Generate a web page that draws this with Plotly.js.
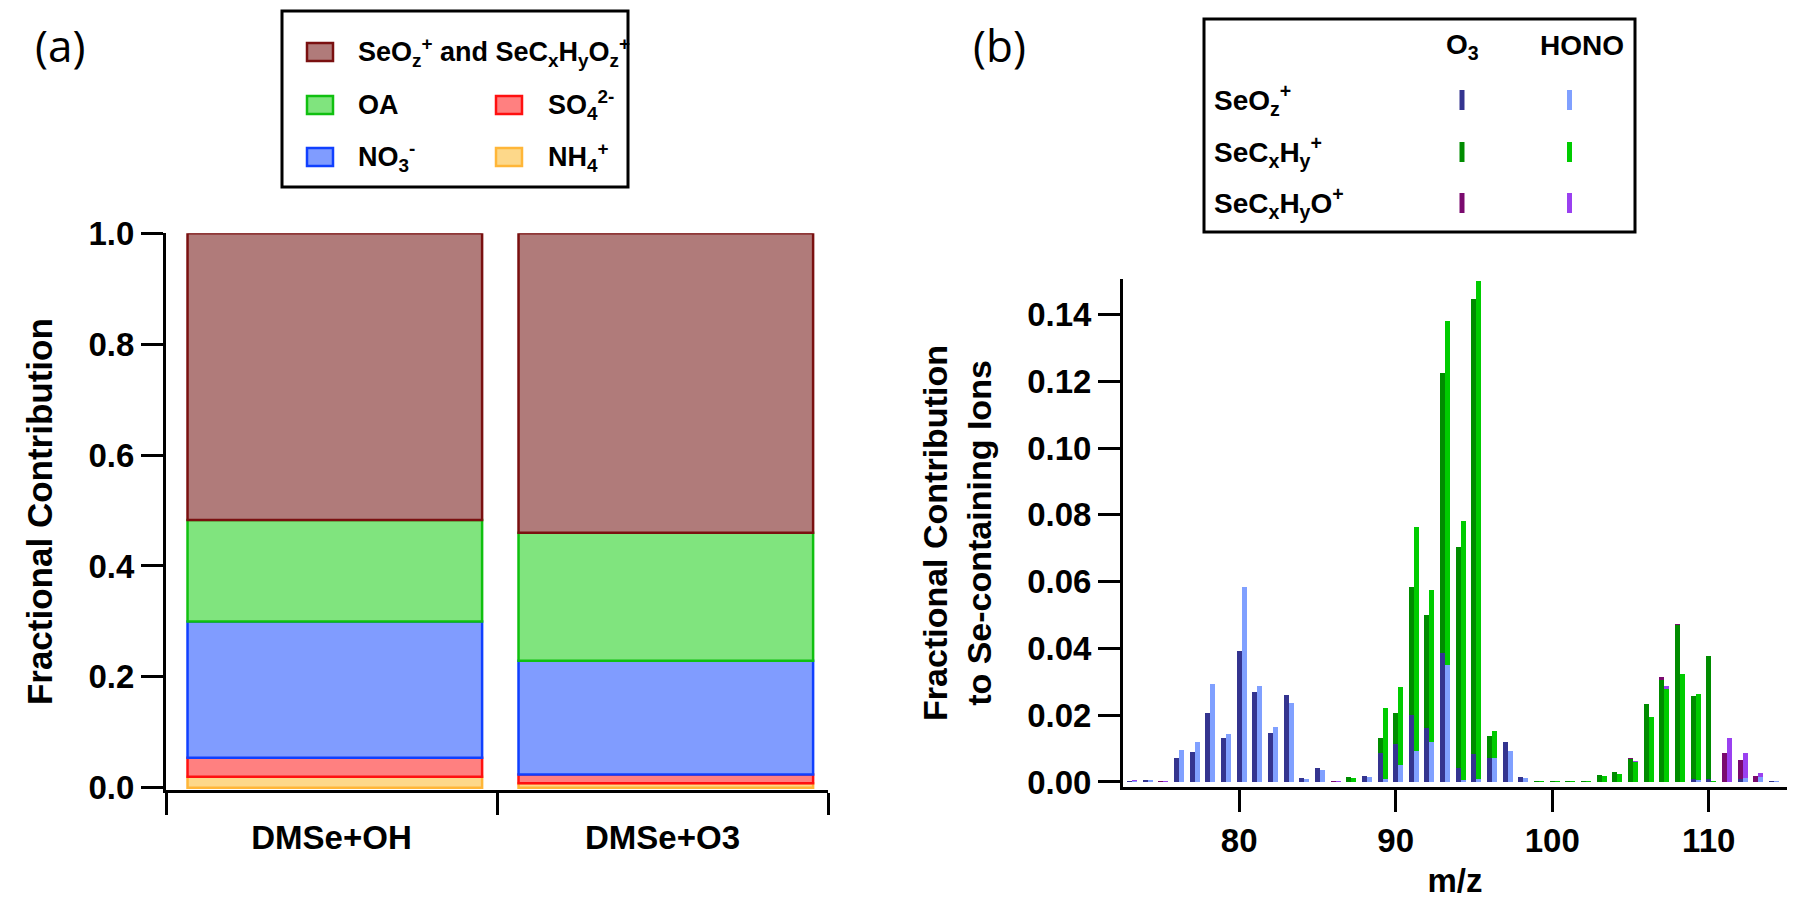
<!DOCTYPE html>
<html>
<head>
<meta charset="utf-8">
<script src="https://cdn.plot.ly/plotly-3.0.1.min.js"></script>
<style>html,body{margin:0;padding:0;background:#fff;}#chart{width:1800px;height:915px;}</style>
</head>
<body>
<div id="chart"></div>
<script>
// ---------- Panel (a): fractional contribution by experiment ----------
const samples = ['DMSe+OH', 'DMSe+O3'];
const nh4   = [0.020, 0.008];
const so4   = [0.034, 0.016];
const no3   = [0.246, 0.205];
const oa    = [0.183, 0.231];
const seOrg = [0.517, 0.540];
const compNames = ['NH<sub>4</sub><sup>+</sup>', 'SO<sub>4</sub><sup>2-</sup>', 'NO<sub>3</sub><sup>-</sup>', 'OA',
  'SeO<sub>z</sub><sup>+</sup> and SeC<sub>x</sub>H<sub>y</sub>O<sub>z</sub><sup>+</sup>'];

// ---------- Panel (b): Se-containing ion spectrum ----------
const mz = [73,74,75,76,77,78,79,80,81,82,
            83,84,85,86,87,88,89,90,91,92,
            93,94,95,96,97,98,99,100,101,102,
            103,104,105,106,107,108,109,110,111,112,
            113,114,115];
const o3SeOz = [0.0002,0.0006,0,0.0071,0.0089,0.0206,0.0133,0.0393,0.0268,0.0146,
                0.0260,0.0012,0.0043,0,0,0.0017,0.0086,0.0114,0.0200,0.0161,
                0.0385,0.0041,0.0083,0.0071,0.0121,0.0015,0,0,0,0,
                0,0,0,0,0,0,0.0008,0.0010,0,0.0010,
                0,0.0003,0];
const honoSeOz = [0.0003,0.0006,0,0.0096,0.0119,0.0292,0.0143,0.0583,0.0288,0.0166,
                  0.0238,0.0010,0.0036,0,0,0.0014,0.0010,0.0051,0.0094,0.0121,
                  0.0350,0.0005,0.0008,0.0071,0.0094,0.0012,0,0,0,0,
                  0,0,0,0,0,0,0.0005,0,0,0.0012,
                  0.0015,0.0003,0.0002];
const o3SeCH = [0,0,0,0,0,0,0,0,0,0,
                0,0,0,0,0.0015,0,0.0045,0.0092,0.0383,0.0339,
                0.0841,0.0664,0.1363,0.0067,0,0,0.0003,0.0003,0.0003,0.0003,
                0.0021,0.0031,0.0068,0.0233,0.0305,0.0470,0.0250,0.0367,0,0,
                0,0,0];
const honoSeCH = [0,0,0,0,0,0,0,0,0,0,
                  0,0,0,0,0.0013,0,0.0212,0.0232,0.0669,0.0454,
                  0.1031,0.0776,0.1492,0.0083,0,0,0.0003,0.0003,0.0003,0.0003,
                  0.0018,0.0025,0.0061,0.0194,0.0278,0.0322,0.0258,0.0004,0,0,
                  0,0,0];
const o3SeCHO = [0,0,0.0003,0,0,0,0,0,0,0,
                 0,0,0,0.0003,0,0,0,0,0,0,
                 0,0,0,0,0,0,0,0,0,0,
                 0,0,0.0005,0,0.0010,0.0003,0,0,0.0088,0.0056,
                 0.0019,0,0];
const honoSeCHO = [0.0002,0,0.0003,0,0,0,0,0,0,0,
                   0,0,0,0.0003,0,0,0,0,0,0,
                   0,0,0,0,0,0,0,0,0,0,
                   0,0,0.0003,0,0.0010,0,0,0,0.0131,0.0076,
                   0.0011,0,0];
const xTicks = [80, 90, 100, 110];

// ---------- styles ----------
const FONT = 'Liberation Sans, Arial, sans-serif';
const compFill = ['#fdd88a', '#ff8080', '#809cff', '#80e47e', '#b07b7a'];
const compLine = ['#ffb638', '#ff1010', '#1040ff', '#10c010', '#7a1010'];
const ionColO3   = ['#34348f', '#008c00', '#7a0a6e'];
const ionColHONO = ['#80a0ff', '#00cc00', '#9a40f0'];

function cum(arrs, k) { // base = sum of previous components
  return arrs[0].map((_, i) => { let s = 0; for (let j = 0; j < k; j++) s += arrs[j][i]; return s; });
}

const traces = [];
const compVals = [nh4, so4, no3, oa, seOrg];
compVals.forEach((vals, k) => {
  traces.push({
    type: 'bar', x: samples, y: vals, base: cum(compVals, k),
    width: 0.89, offset: -0.435,
    marker: { color: compFill[k], line: { color: compLine[k], width: 2.5 } },
    name: compNames[k], showlegend: false, xaxis: 'x', yaxis: 'y', hoverinfo: 'name+y'
  });
});

const o3Sets = [o3SeOz, o3SeCH, o3SeCHO];
const honoSets = [honoSeOz, honoSeCH, honoSeCHO];
const ionNames = ['SeO<sub>z</sub><sup>+</sup>', 'SeC<sub>x</sub>H<sub>y</sub><sup>+</sup>', 'SeC<sub>x</sub>H<sub>y</sub>O<sup>+</sup>'];
o3Sets.forEach((vals, k) => {
  traces.push({
    type: 'bar', x: mz, y: vals, base: cum(o3Sets, k), width: 0.32, offset: -0.16,
    marker: { color: ionColO3[k], line: { width: 0 } },
    name: 'O3 ' + ionNames[k], showlegend: false, xaxis: 'x2', yaxis: 'y2'
  });
});
honoSets.forEach((vals, k) => {
  traces.push({
    type: 'bar', x: mz, y: vals, base: cum(honoSets, k), width: 0.32, offset: 0.16,
    marker: { color: ionColHONO[k], line: { width: 0 } },
    name: 'HONO ' + ionNames[k], showlegend: false, xaxis: 'x2', yaxis: 'y2'
  });
});

// pixel -> paper helpers for decorations
const W = 1800, H = 915;
const px = v => v / W, py = v => 1 - v / H;
const boldFont = (s) => ({ family: FONT, size: s, color: '#000', weight: 700 });

const shapes = [];
const annotations = [];

// Legend (a)
shapes.push({ type: 'rect', xref: 'paper', yref: 'paper', x0: px(282), x1: px(628), y0: py(11), y1: py(187),
  line: { color: '#000', width: 3 }, fillcolor: 'rgba(0,0,0,0)' });
const legA = [
  { k: 4, sx: 307, ty: 52, tx: 356 },
  { k: 3, sx: 307, ty: 105, tx: 356 },
  { k: 1, sx: 496, ty: 105, tx: 546 },
  { k: 2, sx: 307, ty: 157, tx: 356 },
  { k: 0, sx: 496, ty: 157, tx: 546 }
];
legA.forEach(e => {
  shapes.push({ type: 'rect', xref: 'paper', yref: 'paper', x0: px(e.sx), x1: px(e.sx + 26), y0: py(e.ty - 9), y1: py(e.ty + 9),
    fillcolor: compFill[e.k], line: { color: compLine[e.k], width: 2.5 } });
  annotations.push({ xref: 'paper', yref: 'paper', x: px(e.tx), y: py(e.ty), xanchor: 'left', yanchor: 'middle',
    text: compNames[e.k], showarrow: false, font: boldFont(27) });
});

// Legend (b)
shapes.push({ type: 'rect', xref: 'paper', yref: 'paper', x0: px(1204), x1: px(1635), y0: py(19), y1: py(232),
  line: { color: '#000', width: 3 }, fillcolor: 'rgba(0,0,0,0)' });
annotations.push({ xref: 'paper', yref: 'paper', x: px(1462), y: py(47), xanchor: 'center', yanchor: 'middle',
  text: 'O<sub>3</sub>', showarrow: false, font: boldFont(28) });
annotations.push({ xref: 'paper', yref: 'paper', x: px(1582), y: py(45), xanchor: 'center', yanchor: 'middle',
  text: 'HONO', showarrow: false, font: boldFont(28) });
const rowY = [100, 152, 203];
ionNames.forEach((nm, k) => {
  annotations.push({ xref: 'paper', yref: 'paper', x: px(1212), y: py(rowY[k]), xanchor: 'left', yanchor: 'middle',
    text: nm, showarrow: false, font: boldFont(28) });
  shapes.push({ type: 'rect', xref: 'paper', yref: 'paper', x0: px(1459.5), x1: px(1464.5), y0: py(rowY[k] - 10), y1: py(rowY[k] + 10),
    fillcolor: ionColO3[k], line: { width: 0 } });
  shapes.push({ type: 'rect', xref: 'paper', yref: 'paper', x0: px(1567), x1: px(1572), y0: py(rowY[k] - 10), y1: py(rowY[k] + 10),
    fillcolor: ionColHONO[k], line: { width: 0 } });
});

// panel letters
annotations.push({ xref: 'paper', yref: 'paper', x: px(60), y: py(45), xanchor: 'center', yanchor: 'middle',
  text: '(a)', showarrow: false, font: { family: 'Open Sans, sans-serif', size: 44, color: '#000' } });
annotations.push({ xref: 'paper', yref: 'paper', x: px(999), y: py(45), xanchor: 'center', yanchor: 'middle',
  text: '(b)', showarrow: false, font: { family: 'Open Sans, sans-serif', size: 44, color: '#000' } });

const axisCommon = {
  showline: true, linecolor: '#000', linewidth: 3, mirror: false,
  ticks: 'outside', ticklen: 22, tickwidth: 3, tickcolor: '#000',
  showgrid: false, zeroline: false, tickfont: boldFont(33), fixedrange: true
};

const layout = {
  width: W, height: H, margin: { l: 0, r: 0, t: 0, b: 0 },
  paper_bgcolor: '#fff', plot_bgcolor: '#fff',
  barmode: 'overlay', showlegend: false, bargap: 0,
  xaxis: Object.assign({}, axisCommon, {
    domain: [px(166), px(828)], type: 'category', range: [-0.5, 1.5], tickson: 'boundaries', anchor: 'y',
    ticklabelstandoff: 16
  }),
  yaxis: Object.assign({}, axisCommon, {
    domain: [py(790), py(233.3)], range: [-0.004, 1.0], tickvals: [0, 0.2, 0.4, 0.6, 0.8, 1.0], tickformat: '.1f', anchor: 'x',
    title: { text: 'Fractional Contribution', font: boldFont(35), standoff: 26 }
  }),
  xaxis2: Object.assign({}, axisCommon, {
    domain: [px(1123), px(1787)], range: [72.58, 115.0], tickvals: xTicks, anchor: 'y2',
    title: { text: 'm/z', font: boldFont(33), standoff: 12 }
  }),
  yaxis2: Object.assign({}, axisCommon, {
    domain: [py(787), py(279)], range: [-0.0015, 0.1506], tickvals: [0, 0.02, 0.04, 0.06, 0.08, 0.10, 0.12, 0.14], tickformat: '.2f', anchor: 'x2',
    title: { text: 'Fractional Contribution<br>to Se-containing Ions', font: boldFont(34), standoff: 26 }
  }),
  shapes: shapes,
  annotations: annotations
};

Plotly.newPlot('chart', traces, layout, { staticPlot: true, displayModeBar: false });
</script>
</body>
</html>
